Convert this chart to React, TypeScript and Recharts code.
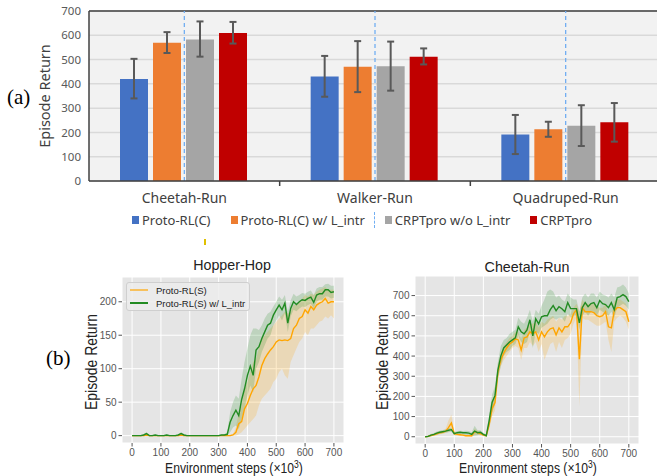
import React from 'react'
import {
  Area,
  Bar,
  BarChart,
  CartesianGrid,
  ComposedChart,
  ErrorBar,
  Line,
  ReferenceLine,
  XAxis,
  YAxis,
} from 'recharts'

const FONT_A = '"Noto Sans", "Open Sans", sans-serif'
const FONT_B = '"Liberation Sans", Arial, sans-serif'
const SERIF = '"Liberation Serif", "Times New Roman", serif'

// ---------- (a) bar chart ----------
const TASKS = ['Cheetah-Run', 'Walker-Run', 'Quadruped-Run']
const METHODS = ['Proto-RL(C)', 'Proto-RL(C) w/ L_intr', 'CRPTpro w/o L_intr', 'CRPTpro']
const METHOD_COLORS = ['#4472c4', '#ed7d31', '#a5a5a5', '#c00000']
const BAR_TICKS = [0, 100, 200, 300, 400, 500, 600, 700]

const PROTO_C = [420, 430, 191]
const PROTO_C_LOW = [340, 347, 111]
const PROTO_C_HIGH = [503, 515, 272]
const PROTO_C_INTR = [569, 470, 213]
const PROTO_C_INTR_LOW = [527, 366, 182]
const PROTO_C_INTR_HIGH = [613, 576, 244]
const CRPT_NO_INTR = [583, 472, 228]
const CRPT_NO_INTR_LOW = [512, 372, 144]
const CRPT_NO_INTR_HIGH = [657, 574, 312]
const CRPT = [609, 512, 242]
const CRPT_LOW = [566, 480, 162]
const CRPT_HIGH = [655, 546, 321]

const BAR_MEANS = [PROTO_C, PROTO_C_INTR, CRPT_NO_INTR, CRPT]
const BAR_LOWS = [PROTO_C_LOW, PROTO_C_INTR_LOW, CRPT_NO_INTR_LOW, CRPT_LOW]
const BAR_HIGHS = [PROTO_C_HIGH, PROTO_C_INTR_HIGH, CRPT_NO_INTR_HIGH, CRPT_HIGH]

const barRows = TASKS.map((task, i) => {
  const row: Record<string, unknown> = { task }
  BAR_MEANS.forEach((means, k) => {
    row[`m${k}`] = means[i]
    row[`e${k}`] = [means[i] - BAR_LOWS[k][i], BAR_HIGHS[k][i] - means[i]]
  })
  return row
})

// ---------- (b) learning curves ----------
const LINE_NAMES = ['Proto-RL(S)', 'Proto-RL(S) w/ L_intr']
const LINE_COLORS = ['#ffa500', '#228b22']
const STEP_TICKS = [0, 100, 200, 300, 400, 500, 600, 700]
const HOP_TICKS = [0, 50, 100, 150, 200]
const CHEETAH_TICKS = [0, 100, 200, 300, 400, 500, 600, 700]

const STEPS = [
  0, 10, 20, 30, 40, 50, 60, 70, 80, 90,
  100, 110, 120, 130, 140, 150, 160, 170, 180, 190,
  200, 210, 220, 230, 240, 250, 260, 270, 280, 290,
  300, 310, 320, 330, 340, 350, 360, 370, 380, 390,
  400, 410, 420, 430, 440, 450, 460, 470, 480, 490,
  500, 510, 520, 530, 540, 550, 560, 570, 580, 590,
  600, 610, 620, 630, 640, 650, 660, 670, 680, 690,
  700,
]

// Hopper-Hop, Proto-RL(S)
const HOP_O_MEAN = [
  0, 0, 0, 0, 0, 1, 0, 0, 0, 0,
  0, 0, 0, 0, 0, 0, 0, 1, 0, 0,
  0, 0, 0, 0, 0, 0, 0, 0, 0, 0,
  0, 0, 0, 0, 0, 1, 5, 18, 21, 40,
  48, 60, 70, 75, 88, 105, 115, 122, 128, 133,
  140, 143, 142, 143, 142, 145, 160, 165, 175, 178,
  188, 183, 193, 188, 195, 198, 200, 205, 198, 200,
  200,
]
const HOP_O_LO = [
  -1, -1, -1, -1, -1, 0, -1, -1, -1, -1,
  -1, -1, -1, -1, -1, -1, -1, 0, -1, -1,
  -1, -1, -1, -1, -1, -1, -1, -1, -1, -1,
  -1, -1, -1, -1, -1, 0, 0, 2, 5, 10,
  15, 20, 25, 30, 45, 55, 60, 65, 70, 80,
  85, 95, 100, 90, 85, 110, 120, 130, 140, 145,
  155, 150, 160, 160, 165, 170, 172, 178, 175, 180,
  175,
]
const HOP_O_HI = [
  1, 1, 1, 1, 1, 2, 1, 1, 1, 1,
  1, 1, 1, 1, 1, 1, 1, 2, 1, 1,
  1, 1, 1, 1, 1, 1, 1, 1, 1, 1,
  1, 1, 1, 1, 1, 3, 12, 35, 45, 70,
  80, 95, 110, 115, 130, 145, 150, 155, 160, 165,
  170, 175, 180, 185, 183, 185, 195, 195, 200, 205,
  210, 208, 212, 210, 215, 218, 220, 222, 218, 218,
  218,
]
// Hopper-Hop, Proto-RL(S) w/ L_intr
const HOP_G_MEAN = [
  0, 0, 0, 0, 1, 3, 0, 0, 1, 0,
  0, 0, 1, 0, 0, 0, 1, 3, 1, 0,
  0, 0, 0, 0, 0, 0, 0, 0, 0, 0,
  0, 1, 1, 2, 20, 30, 38, 30, 54, 70,
  90, 104, 90, 128, 133, 145, 155, 165, 168, 180,
  188, 195, 188, 198, 168, 190, 200, 196, 200, 203,
  202, 205, 207, 199, 210, 212, 212, 218, 218, 214,
  215,
]
const HOP_G_LO = [
  -1, -1, -1, -1, 0, 1, -1, -1, 0, -1,
  -1, -1, 0, -1, -1, -1, 0, 1, 0, -1,
  -1, -1, -1, -1, -1, -1, -1, -1, -1, -1,
  -1, 0, 0, 0, 5, 12, 15, 10, 25, 40,
  60, 75, 65, 100, 110, 125, 135, 145, 150, 165,
  172, 180, 172, 183, 155, 178, 188, 186, 190, 193,
  192, 195, 197, 190, 200, 203, 203, 208, 208, 205,
  206,
]
const HOP_G_HI = [
  1, 1, 1, 1, 2, 5, 1, 1, 2, 1,
  1, 1, 2, 1, 1, 1, 2, 5, 2, 1,
  1, 1, 1, 1, 1, 1, 1, 1, 1, 1,
  1, 2, 2, 5, 35, 50, 60, 55, 85, 110,
  130, 150, 160, 160, 158, 165, 175, 182, 185, 193,
  200, 208, 203, 210, 185, 202, 212, 208, 210, 213,
  212, 215, 217, 210, 220, 222, 222, 226, 227, 224,
  224,
]

// Cheetah-Run, Proto-RL(S)
const CH_O_MEAN = [
  0, 2, 6, 10, 15, 20, 22, 28, 45, 68,
  15, 12, 10, 8, 5, 5, 5, 25, 20, 15,
  8, 5, 60, 140, 170, 320, 380, 415, 440, 460,
  470, 485, 480, 430, 490, 495, 520, 510, 520, 480,
  520, 495, 520, 535, 540, 505, 540, 520, 545, 545,
  565, 610, 630, 385, 640, 620, 620, 620, 615, 600,
  595, 600, 620, 545, 540, 625, 640, 640, 630, 620,
  570,
]
const CH_O_LO = [
  -3, -2, 2, 5, 8, 12, 14, 18, 25, 30,
  8, 5, 4, 2, 0, 0, 0, 10, 10, 8,
  2, 0, 40, 100, 130, 280, 350, 380, 400, 420,
  440, 450, 440, 380, 440, 440, 470, 450, 470, 420,
  460, 380, 420, 460, 470, 420, 470, 440, 480, 490,
  510, 560, 590, 150, 590, 580, 580, 570, 560, 550,
  550, 560, 570, 480, 420, 570, 590, 600, 590, 570,
  530,
]
const CH_O_HI = [
  3, 6, 10, 15, 22, 28, 30, 38, 80, 110,
  22, 20, 16, 14, 10, 10, 10, 40, 30, 22,
  14, 10, 80, 180, 210, 360, 410, 450, 470, 490,
  500, 520, 520, 480, 530, 540, 560, 560, 570, 540,
  570, 560, 580, 590, 600, 570, 590, 580, 600, 600,
  610, 640, 660, 620, 680, 660, 660, 660, 660, 650,
  640, 640, 660, 610, 600, 670, 680, 680, 670, 660,
  610,
]
// Cheetah-Run, Proto-RL(S) w/ L_intr
const CH_G_MEAN = [
  0, 2, 8, 12, 18, 22, 25, 28, 32, 35,
  15, 20, 22, 20, 20, 18, 12, 28, 20, 22,
  12, 5, 80, 170, 205, 330, 400, 440, 455, 470,
  480, 490, 545, 520, 510, 530, 580, 500, 585, 560,
  595, 600, 600, 630, 650, 625, 645, 635, 620, 665,
  635, 635, 635, 565, 640, 665, 645, 660, 665, 640,
  675, 660, 655, 640, 665, 630, 690, 695, 705, 695,
  670,
]
const CH_G_LO = [
  -3, -2, 3, 6, 10, 14, 17, 20, 22, 25,
  8, 12, 14, 12, 10, 8, 3, 5, 8, 12,
  5, 0, 50, 120, 160, 290, 350, 400, 420, 430,
  450, 460, 500, 470, 460, 470, 520, 440, 520, 510,
  540, 550, 560, 580, 590, 580, 590, 590, 570, 610,
  590, 600, 600, 530, 600, 620, 600, 620, 620, 600,
  630, 620, 610, 600, 620, 590, 640, 650, 660, 650,
  630,
]
const CH_G_HI = [
  3, 6, 13, 18, 26, 30, 33, 36, 42, 45,
  22, 28, 30, 28, 30, 28, 22, 55, 32, 32,
  20, 10, 110, 210, 250, 370, 450, 480, 490, 510,
  520, 530, 590, 570, 560, 590, 630, 570, 630, 610,
  650, 680, 720, 730, 720, 690, 700, 680, 670, 710,
  690, 680, 680, 620, 690, 710, 690, 710, 710, 690,
  720, 705, 700, 690, 710, 690, 740, 745, 755, 740,
  710,
]

function curveRows(
  oMean: number[], oLo: number[], oHi: number[],
  gMean: number[], gLo: number[], gHi: number[],
) {
  return STEPS.map((x, i) => ({
    x,
    oMean: oMean[i],
    oBand: [oLo[i], oHi[i]],
    gMean: gMean[i],
    gBand: [gLo[i], gHi[i]],
  }))
}

const hopperRows = curveRows(HOP_O_MEAN, HOP_O_LO, HOP_O_HI, HOP_G_MEAN, HOP_G_LO, HOP_G_HI)
const cheetahRows = curveRows(CH_O_MEAN, CH_O_LO, CH_O_HI, CH_G_MEAN, CH_G_LO, CH_G_HI)

const AXIS_GAP = 12

function TaskTick(props: any) {
  const { x, y, payload } = props
  const half = payload && payload.offset > 0 ? payload.offset : 95
  return (
    <g>
      <line
        x1={x + half}
        x2={x + half}
        y1={y - AXIS_GAP}
        y2={y - AXIS_GAP + 5}
        stroke="#404040"
        strokeWidth={1.5}
      />
      <text x={x} y={y} dy="0.71em" textAnchor="middle" fontSize={14} fontFamily={FONT_A} fill="#404040">
        {payload.value}
      </text>
    </g>
  )
}

function BarPanel() {
  return (
    <BarChart
      width={670}
      height={240}
      data={barRows}
      margin={{ top: 11, right: 9, bottom: 29, left: 0 }}
      barGap={5}
      barCategoryGap={31}
    >
      <CartesianGrid vertical={false} stroke="#d9d9d9" strokeWidth={1.5} fill="#f2f2f2" />
      <XAxis
        dataKey="task"
        height={30}
        tickSize={0}
        tickMargin={AXIS_GAP}
        tickLine={false}
        axisLine={{ stroke: '#404040', strokeWidth: 1.5 }}
        tick={<TaskTick />}
        interval={0}
      />
      <YAxis
        domain={[0, 700]}
        ticks={BAR_TICKS}
        interval={0}
        width={89}
        tickLine={false}
        axisLine={{ stroke: '#404040', strokeWidth: 1.5 }}
        tick={{ fontSize: 11.5, fill: '#595959', fontFamily: FONT_A }}
        label={{
          value: 'Episode Return',
          angle: -90,
          position: 'center',
          style: { fontSize: 14.5, fill: '#404040', fontFamily: FONT_A, textAnchor: 'middle' },
        }}
      />
      <ReferenceLine y={700} stroke="#404040" strokeWidth={1.5} />
      {TASKS.map((t) => (
        <ReferenceLine key={t} x={t} stroke="#71aef2" strokeWidth={1.3} strokeDasharray="4 3" />
      ))}
      {METHODS.map((name, k) => (
        <Bar key={name} dataKey={`m${k}`} name={name} fill={METHOD_COLORS[k]} isAnimationActive={false}>
          <ErrorBar dataKey={`e${k}`} width={3.5} strokeWidth={2} stroke="#595959" isAnimationActive={false} />
        </Bar>
      ))}
    </BarChart>
  )
}

function CurvePanel({
  rows,
  width,
  yWidth,
  yDomain,
  yTicks,
  margin,
}: {
  rows: ReturnType<typeof curveRows>
  width: number
  yWidth: number
  yDomain: [number, number]
  yTicks: number[]
  margin: { top: number; right: number; bottom: number; left: number }
}) {
  const tickStyle = { fontSize: 10, fill: '#555', fontFamily: FONT_B }
  return (
    <ComposedChart width={width} height={226} data={rows} margin={margin}>
      <CartesianGrid stroke="#ffffff" strokeWidth={1} fill="#e5e5e5" />
      <XAxis
        type="number"
        dataKey="x"
        domain={[-35, 735]}
        allowDataOverflow
        ticks={STEP_TICKS}
        interval={0}
        height={20}
        tickSize={3.5}
        tickMargin={2}
        axisLine={false}
        tickLine={{ stroke: '#555' }}
        tick={tickStyle}
      />
      <YAxis
        type="number"
        domain={yDomain}
        allowDataOverflow
        ticks={yTicks}
        interval={0}
        width={yWidth}
        tickSize={3.5}
        tickMargin={2}
        axisLine={false}
        tickLine={{ stroke: '#555' }}
        tick={tickStyle}
      />
      <Area
        type="linear"
        dataKey="oBand"
        stroke="none"
        fill={LINE_COLORS[0]}
        fillOpacity={0.2}
        isAnimationActive={false}
      />
      <Line
        type="linear"
        dataKey="oMean"
        stroke={LINE_COLORS[0]}
        strokeWidth={1.4}
        dot={false}
        isAnimationActive={false}
      />
      <Area
        type="linear"
        dataKey="gBand"
        stroke="none"
        fill={LINE_COLORS[1]}
        fillOpacity={0.2}
        isAnimationActive={false}
      />
      <Line
        type="linear"
        dataKey="gMean"
        stroke={LINE_COLORS[1]}
        strokeWidth={1.4}
        dot={false}
        isAnimationActive={false}
      />
    </ComposedChart>
  )
}

function StretchedText({
  text, cx, cy, size, scale, rotate = false,
}: { text: React.ReactNode; cx: number; cy: number; size: number; scale: number; rotate?: boolean }) {
  return (
    <div
      style={{
        position: 'absolute',
        left: cx - 150,
        top: cy - size / 2,
        width: 300,
        height: size,
        textAlign: 'center',
        fontFamily: FONT_B,
        fontSize: size,
        lineHeight: `${size}px`,
        color: '#222',
        transform: `${rotate ? 'rotate(-90deg) ' : ''}scaleX(${scale})`,
        transformOrigin: '50% 50%',
        whiteSpace: 'nowrap',
      }}
    >
      {text}
    </div>
  )
}

const stepsLabel = (
  <span>
    Environment steps (×10<sup style={{ fontSize: '0.7em', verticalAlign: '0.45em', lineHeight: 0 }}>3</sup>)
  </span>
)

export default function App() {
  return (
    <div
      style={{
        position: 'absolute',
        left: 0,
        top: 0,
        width: 657,
        height: 476,
        overflow: 'hidden',
        background: '#ffffff',
      }}
    >
      {/* (a) */}
      <div style={{ position: 'absolute', left: 0, top: 0 }}>
        <BarPanel />
      </div>
      <div style={{ position: 'absolute', left: 7, top: 84, fontFamily: SERIF, fontSize: 21, lineHeight: '26px' }}>(a)</div>
      <div
        style={{
          position: 'absolute',
          left: 132,
          top: 212,
          height: 16,
          display: 'flex',
          alignItems: 'center',
          gap: 20,
          fontFamily: FONT_A,
          fontSize: 13,
          color: '#404040',
          whiteSpace: 'nowrap',
        }}
      >
        {METHODS.map((name, k) => (
          <div key={name} style={{ display: 'flex', alignItems: 'center' }}>
            <span style={{ width: 7, height: 8, background: METHOD_COLORS[k], marginRight: 3, display: 'inline-block' }} />
            {name}
          </div>
        ))}
      </div>
      <div style={{ position: 'absolute', left: 374, top: 212, height: 16, borderLeft: '1.5px dashed #71aef2' }} />
      <div style={{ position: 'absolute', left: 204, top: 239, width: 2, height: 6, background: '#e0c000' }} />

      {/* (b) */}
      <div style={{ position: 'absolute', left: 46, top: 345, fontFamily: SERIF, fontSize: 21, lineHeight: '26px' }}>(b)</div>
      <div style={{ position: 'absolute', left: 60, top: 250 }}>
        <CurvePanel
          rows={hopperRows}
          width={300}
          yWidth={62}
          yDomain={[-11, 237]}
          yTicks={HOP_TICKS}
          margin={{ top: 27, right: 16, bottom: 13, left: 0 }}
        />
      </div>
      <div style={{ position: 'absolute', left: 350, top: 250 }}>
        <CurvePanel
          rows={cheetahRows}
          width={307}
          yWidth={65}
          yDomain={[-36, 797]}
          yTicks={CHEETAH_TICKS}
          margin={{ top: 26, right: 18, bottom: 12, left: 0 }}
        />
      </div>
      <StretchedText text="Hopper-Hop" cx={232} cy={265} size={15.5} scale={0.92} />
      <StretchedText text="Cheetah-Run" cx={527} cy={267} size={15.5} scale={0.92} />
      <StretchedText text={stepsLabel} cx={234} cy={468} size={14.5} scale={0.84} />
      <StretchedText text={stepsLabel} cx={528} cy={468} size={14.5} scale={0.84} />
      <StretchedText text="Episode Return" cx={92} cy={362} size={16} scale={0.87} rotate />
      <StretchedText text="Episode Return" cx={383} cy={362} size={16} scale={0.87} rotate />

      {/* Hopper legend */}
      <div
        style={{
          position: 'absolute',
          left: 126,
          top: 282,
          width: 124,
          height: 29,
          boxSizing: 'border-box',
          background: 'rgba(236,236,236,0.85)',
          border: '1px solid #cfcfcf',
          borderRadius: 3,
          fontFamily: FONT_B,
          fontSize: 9.5,
          color: '#222',
        }}
      >
        {LINE_NAMES.map((name, k) => (
          <div
            key={name}
            style={{
              position: 'absolute',
              left: 3,
              top: k === 0 ? 1 : 14,
              height: 12,
              display: 'flex',
              alignItems: 'center',
              whiteSpace: 'nowrap',
            }}
          >
            <span
              style={{
                display: 'inline-block',
                width: 18,
                height: 1.5,
                background: LINE_COLORS[k],
                opacity: k === 0 ? 0.6 : 1,
                marginRight: 8,
              }}
            />
            {name}
          </div>
        ))}
      </div>
    </div>
  )
}
